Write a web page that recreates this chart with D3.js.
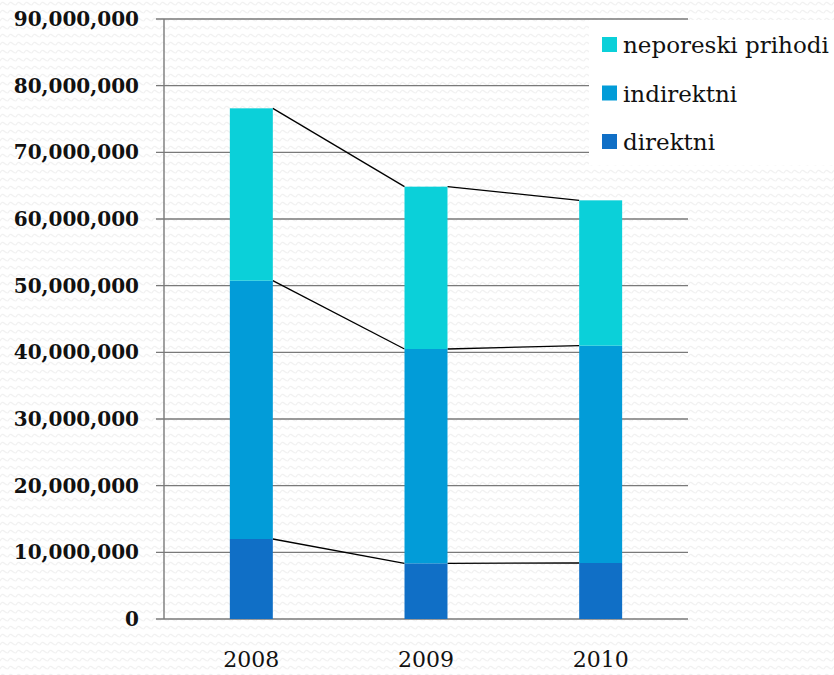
<!DOCTYPE html>
<html><head><meta charset="utf-8">
<script src="https://cdn.jsdelivr.net/npm/d3@7"></script>
<style>html,body{margin:0;padding:0;background:#fff;}svg{display:block;}</style>
</head><body>
<svg id="c" width="834" height="675"></svg>
<script>
const years = ["2008", "2009", "2010"];
const seriesNames = ["direktni", "indirektni", "neporeski prihodi"];
const direktni = [12000000, 8350000, 8400000];
const indirektni = [38750000, 32150000, 32600000];
const neporeski = [25850000, 24350000, 21800000];
const yTicks = [0, 10000000, 20000000, 30000000, 40000000, 50000000, 60000000, 70000000, 80000000, 90000000];
const colors = ["#106fc6", "#029cd8", "#0bd0d9"];

const svg = d3.select("#c");
const defs = svg.append("defs");
const pat = defs.append("pattern").attr("id", "wave").attr("patternUnits", "userSpaceOnUse")
  .attr("width", 8).attr("height", 8);
pat.append("rect").attr("width", 8).attr("height", 8).attr("fill", "#ffffff");
pat.append("path").attr("d", "M0,5 Q2,1 4,3 T8,5").attr("fill", "none").attr("stroke", "#f1f1f1").attr("stroke-width", 1.1);
svg.append("rect").attr("width", 834).attr("height", 675).attr("fill", "url(#wave)");

const x0 = 164, x1 = 688;
const x = d3.scaleBand().domain(years).range([x0, x1]).paddingInner(0.754).paddingOuter(0.377);
const y = d3.scaleLinear().domain([0, 90000000]).range([619, 19]);

const fmt = d3.format(",");
const font = "'DejaVu Serif', 'Liberation Serif', serif";

// gridlines
svg.append("g").selectAll("line").data(yTicks).join("line")
  .attr("x1", x0 - 8).attr("x2", x1)
  .attr("y1", d => y(d)).attr("y2", d => y(d))
  .attr("stroke", "#7a7a7a").attr("stroke-width", 1.4);
// y axis line
svg.append("line").attr("x1", x0).attr("x2", x0).attr("y1", y(90000000)).attr("y2", y(0))
  .attr("stroke", "#7a7a7a").attr("stroke-width", 1.4);

// y labels
svg.append("g").selectAll("text").data(yTicks).join("text")
  .attr("x", 139).attr("y", d => y(d)).attr("dy", "0.35em")
  .attr("text-anchor", "end").attr("font-family", font).attr("font-size", 20)
  .attr("font-weight", "600").attr("fill", "#111")
  .style("font-variant-numeric", "oldstyle-nums")
  .text(d => fmt(d));

// x labels
svg.append("g").selectAll("text").data(years).join("text")
  .attr("x", d => x(d) + x.bandwidth() / 2).attr("y", 667)
  .attr("text-anchor", "middle").attr("font-family", font).attr("font-size", 22)
  .attr("fill", "#111").style("font-variant-numeric", "oldstyle-nums")
  .text(d => d);

// stack
const table = years.map((yr, i) => ({year: yr, direktni: direktni[i], indirektni: indirektni[i], "neporeski prihodi": neporeski[i]}));
const stack = d3.stack().keys(seriesNames)(table);

// series lines
stack.forEach(layer => {
  for (let i = 0; i < years.length - 1; i++) {
    svg.append("line")
      .attr("x1", x(years[i]) + x.bandwidth()).attr("y1", y(layer[i][1]))
      .attr("x2", x(years[i + 1])).attr("y2", y(layer[i + 1][1]))
      .attr("stroke", "#000").attr("stroke-width", 1.3);
  }
});

// bars
stack.forEach((layer, k) => {
  svg.append("g").selectAll("rect").data(layer).join("rect")
    .attr("x", d => x(d.data.year)).attr("width", x.bandwidth())
    .attr("y", d => y(d[1])).attr("height", d => y(d[0]) - y(d[1]))
    .attr("fill", colors[k]);
});

// legend
const lg = svg.append("g");
lg.append("rect").attr("x", 589).attr("y", 20).attr("width", 245).attr("height", 145).attr("fill", "#fff");
const legendItems = seriesNames.map((n, k) => ({name: n, color: colors[k]})).reverse();
const lgItem = lg.selectAll("g").data(legendItems).join("g")
  .attr("transform", (d, i) => `translate(602, ${45 + i * 48.5})`);
lgItem.append("rect").attr("x", 0).attr("y", -8).attr("width", 15).attr("height", 15).attr("fill", d => d.color);
lgItem.append("text").attr("x", 21).attr("y", 0).attr("dy", "0.35em")
  .attr("font-family", font).attr("font-size", 23).attr("fill", "#111").text(d => d.name);
</script>
</body></html>
